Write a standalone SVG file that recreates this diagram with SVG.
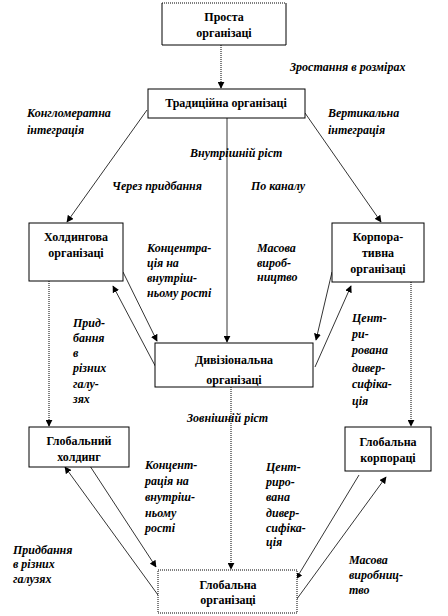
<svg xmlns="http://www.w3.org/2000/svg" width="448" height="616" viewBox="0 0 448 616">
<style>
.box{fill:#fff;stroke:#000;stroke-width:1}
.t{font-weight:bold;font-size:12px;text-anchor:middle;fill:#000}
.l{font-weight:bold;font-style:italic;font-size:12px;fill:#000}
.c{fill:none;stroke:#000;stroke-width:0.8}
.d{fill:none;stroke:#000;stroke-width:1;stroke-dasharray:1,1}
</style>
<defs>
<marker id="a" viewBox="0 0 10 10" refX="9" refY="5" markerWidth="7" markerHeight="7" markerUnits="userSpaceOnUse" orient="auto">
<path d="M0,0 L10,5 L0,10 z" fill="#000"/>
</marker>
</defs>
<rect width="448" height="616" fill="#fff"/>
<g id="connectors">
<line class="d" x1="221" y1="45" x2="221" y2="88" marker-end="url(#a)"/>
<line class="c" x1="227" y1="118" x2="227" y2="342" marker-end="url(#a)"/>
<line class="c" x1="147" y1="110" x2="67" y2="222" marker-end="url(#a)"/>
<line class="c" x1="305" y1="113" x2="381" y2="222" marker-end="url(#a)"/>
<line class="c" x1="123" y1="272" x2="157" y2="341" marker-end="url(#a)"/>
<line class="c" x1="160" y1="375" x2="113" y2="286" marker-end="url(#a)"/>
<line class="c" x1="332" y1="272" x2="316" y2="340" marker-end="url(#a)"/>
<line class="c" x1="315" y1="367" x2="351" y2="286" marker-end="url(#a)"/>
<line class="d" x1="49" y1="281" x2="49" y2="426" marker-end="url(#a)"/>
<line class="d" x1="411" y1="282" x2="411" y2="426" marker-end="url(#a)"/>
<line class="d" x1="231" y1="387" x2="231" y2="569" marker-end="url(#a)"/>
<line class="c" x1="88" y1="463" x2="156" y2="567" marker-end="url(#a)"/>
<line class="c" x1="158" y1="595" x2="65" y2="467" marker-end="url(#a)"/>
<line class="c" x1="359" y1="475" x2="296" y2="579" marker-end="url(#a)"/>
<line class="c" x1="291" y1="607" x2="386" y2="477" marker-end="url(#a)"/>
</g>
<g font-family="Liberation Serif, DejaVu Serif, serif">
<g id="n-prosta">
<rect x="162" y="3" width="124" height="42" fill="#fff"/>
<path d="M162,3 V45 H286 V3" fill="none" stroke="#000"/>
<line class="d" x1="162" y1="3" x2="286" y2="3"/>
<text class="t" x="224" y="21">Проста</text>
<text class="t" x="224" y="37">організаці</text>
</g>
<g id="n-tradytsiina">
<rect class="box" x="148" y="89" width="157" height="29"/>
<text class="t" x="226" y="107">Традиційна організаці</text>
</g>
<g id="n-kholdynh">
<rect class="box" x="29" y="223" width="94" height="58"/>
<text class="t" x="76" y="241">Холдингова</text>
<text class="t" x="76" y="257">організаці</text>
</g>
<g id="n-korporatyvna">
<rect class="box" x="332" y="223" width="92" height="59"/>
<text class="t" x="378" y="241">Корпора-</text>
<text class="t" x="378" y="257">тивна</text>
<text class="t" x="378" y="273">організаці</text>
</g>
<g id="n-dyviziina">
<rect class="box" x="155" y="343" width="158" height="44"/>
<text class="t" x="234" y="364">Дивізіональна</text>
<text class="t" x="234" y="384">організаці</text>
</g>
<g id="n-glob-kholdynh">
<rect class="box" x="29" y="427" width="100" height="40"/>
<text class="t" x="79" y="445">Глобальний</text>
<text class="t" x="79" y="461">холдинг</text>
</g>
<g id="n-glob-korp">
<rect class="box" x="345" y="427" width="86" height="44"/>
<text class="t" x="388" y="446">Глобальна</text>
<text class="t" x="388" y="462">корпораці</text>
</g>
<g id="n-glob-org">
<rect class="box" x="158" y="570" width="139" height="43" stroke-dasharray="1,1"/>
<text class="t" x="228" y="589">Глобальна</text>
<text class="t" x="228" y="604">організаці</text>
</g>
<g id="labels">
<text class="l" x="290" y="71">Зростання в розмірах</text>
<text class="l" x="27" y="117">Конгломератна</text>
<text class="l" x="27" y="134">інтеграція</text>
<text class="l" x="328" y="117">Вертикальна</text>
<text class="l" x="328" y="134">інтеграція</text>
<text class="l" x="190" y="157">Внутрішній ріст</text>
<text class="l" x="112" y="190">Через придбання</text>
<text class="l" x="251" y="190">По каналу</text>
<text class="l" x="147" y="252">Концентра-</text>
<text class="l" x="147" y="267">ція на</text>
<text class="l" x="147" y="282">внутріш-</text>
<text class="l" x="147" y="297">ньому рості</text>
<text class="l" x="257" y="252">Масова</text>
<text class="l" x="257" y="267">вироб-</text>
<text class="l" x="257" y="281">ництво</text>
<text class="l" x="73" y="327">Прид-</text>
<text class="l" x="73" y="342">бання</text>
<text class="l" x="73" y="357">в</text>
<text class="l" x="73" y="372">різних</text>
<text class="l" x="73" y="388">галу-</text>
<text class="l" x="73" y="403">зях</text>
<text class="l" x="352" y="322">Цент-</text>
<text class="l" x="352" y="338">ри-</text>
<text class="l" x="352" y="354">рована</text>
<text class="l" x="352" y="372">дивер-</text>
<text class="l" x="352" y="388">сифіка-</text>
<text class="l" x="352" y="405">ція</text>
<text class="l" x="187" y="422">Зовнішній ріст</text>
<text class="l" x="145" y="469">Концент-</text>
<text class="l" x="145" y="485">рація на</text>
<text class="l" x="145" y="501">внутріш-</text>
<text class="l" x="145" y="517">ньому</text>
<text class="l" x="145" y="532">рості</text>
<text class="l" x="266" y="471">Цент-</text>
<text class="l" x="266" y="486">риро-</text>
<text class="l" x="266" y="501">вана</text>
<text class="l" x="266" y="517">дивер-</text>
<text class="l" x="266" y="532">сифіка-</text>
<text class="l" x="266" y="546">ція</text>
<text class="l" x="13" y="554">Придбання</text>
<text class="l" x="13" y="568">в різних</text>
<text class="l" x="13" y="583">галузях</text>
<text class="l" x="349" y="564">Масова</text>
<text class="l" x="349" y="579">виробниц-</text>
<text class="l" x="349" y="594">тво</text>
</g>
</g>
</svg>
